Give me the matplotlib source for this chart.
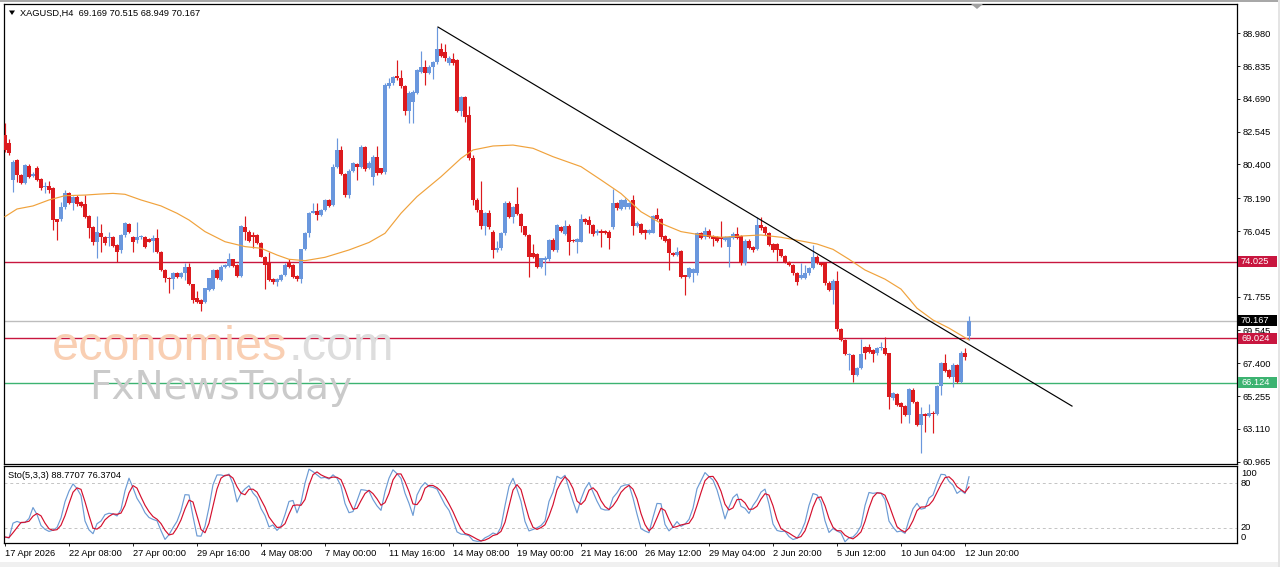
import numpy as np
import pandas as pd
import matplotlib
matplotlib.use('Agg')
import matplotlib.pyplot as plt
from matplotlib.patches import Rectangle, Polygon
import matplotlib.transforms as mtransforms

plt.rcParams['font.family'] = ['Liberation Sans', 'DejaVu Sans']

# ---------------- data ----------------
symbol_header = "XAGUSD,H4  69.169 70.515 68.949 70.167"
sto_header = "Sto(5,3,3) 88.7707 76.3704"

opens = [82.33, 81.78, 79.39, 80.69, 79.71, 79.21, 80.30, 79.65, 80.19, 79.45,
         78.91, 78.99, 78.84, 76.81, 76.81, 77.60, 78.51, 77.86, 78.30, 77.97,
         77.82, 77.03, 76.33, 75.35, 75.94, 75.68, 75.57, 75.68, 75.13, 74.81,
         75.79, 76.51, 75.68, 75.46, 75.64, 75.68, 75.50, 75.42, 75.57, 74.70,
         73.50, 73.00, 72.89, 73.33, 73.06, 73.28, 73.68, 72.58, 71.65, 71.54,
         71.43, 72.19, 72.24, 73.50, 72.85, 73.72, 73.76, 74.20, 73.83, 73.11,
         76.33, 76.01, 75.79, 75.79, 75.29, 74.37, 73.94, 72.89, 72.74, 72.85,
         73.17, 74.04, 73.83, 73.11, 72.89, 74.85, 75.90, 77.25, 77.36, 77.10,
         77.42, 78.08, 77.75, 80.26, 81.35, 79.78, 78.40, 80.00, 80.43, 80.26,
         81.57, 80.15, 79.60, 80.87, 80.15, 79.90, 85.56, 85.71, 86.19, 86.03,
         85.53, 83.92, 84.51, 85.10, 86.47, 86.80, 86.41, 86.80, 87.13, 87.93,
         87.78, 87.02, 87.28, 87.23, 83.92, 84.79, 83.64, 80.80, 78.08, 77.42,
         76.38, 77.21, 76.01, 74.81, 74.92, 75.90, 77.90, 76.99, 77.82, 77.16,
         76.38, 75.79, 74.59, 74.55, 73.67, 74.15, 74.20, 75.46, 74.81, 76.33,
         75.85, 76.38, 75.46, 75.35, 75.35, 76.81, 76.77, 76.44, 75.90, 76.07,
         76.07, 76.01, 76.30, 77.90, 77.47, 77.60, 77.60, 78.08, 76.38, 76.51,
         76.12, 75.94, 75.94, 77.10, 76.81, 75.72, 75.51, 74.59, 74.48, 74.74,
         73.17, 73.06, 73.33, 73.28, 75.90, 75.64, 76.07, 75.72, 75.64, 75.64,
         75.46, 75.03, 75.57, 75.85, 75.72, 73.94, 75.42, 75.03, 74.85, 76.44,
         76.29, 75.94, 75.18, 75.18, 74.85, 74.42, 74.05, 73.83, 73.33, 72.95,
         72.95, 73.28, 73.61, 74.37, 73.98, 73.94, 72.67, 72.19, 72.80, 69.62,
         68.92, 67.94, 67.94, 66.63, 67.07, 68.49, 68.49, 68.27, 68.05, 68.38,
         68.38, 68.05, 65.11, 65.39, 64.78, 64.61, 64.02, 65.65, 64.89, 63.36,
         64.08, 63.95, 64.17, 64.08, 65.91, 67.44, 66.96, 66.52, 67.29, 66.20,
         68.05, 69.169]
highs = [83.09, 82.05, 80.69, 80.75, 79.80, 80.45, 80.40, 79.90, 80.30, 79.50,
         79.28, 79.32, 78.90, 76.85, 77.97, 78.73, 78.60, 78.35, 78.40, 78.00,
         78.40, 77.10, 76.40, 77.03, 76.51, 75.70, 76.01, 75.75, 75.20, 75.85,
         76.66, 76.55, 75.75, 76.66, 75.80, 75.75, 75.60, 75.79, 76.16, 74.75,
         73.55, 73.05, 73.40, 73.40, 73.40, 73.98, 73.98, 72.60, 72.15, 71.60,
         72.35, 73.00, 73.55, 73.55, 73.80, 73.90, 74.59, 74.25, 73.90, 76.42,
         77.03, 76.10, 76.01, 75.85, 75.35, 74.40, 74.70, 72.95, 72.95, 73.25,
         73.98, 74.20, 73.90, 73.15, 74.90, 76.00, 77.30, 77.90, 77.86, 77.50,
         78.15, 78.15, 80.40, 82.11, 81.60, 79.85, 80.10, 80.55, 80.50, 81.65,
         81.60, 80.60, 81.00, 81.60, 80.20, 85.70, 86.03, 86.20, 87.23, 86.58,
         85.60, 85.20, 85.30, 86.65, 87.84, 87.23, 86.90, 87.20, 89.37, 88.32,
         88.30, 87.50, 87.67, 87.30, 84.90, 84.85, 84.20, 81.00, 78.20, 79.30,
         77.30, 77.40, 76.10, 75.40, 76.00, 78.00, 78.00, 77.70, 78.95, 77.20,
         76.40, 75.85, 75.20, 74.60, 74.30, 74.40, 75.50, 75.60, 76.50, 76.40,
         76.80, 76.50, 75.55, 75.60, 77.14, 76.90, 77.00, 76.50, 76.20, 76.20,
         76.10, 76.10, 78.78, 77.95, 78.15, 78.20, 77.95, 78.40, 76.73, 76.60,
         76.20, 76.20, 77.10, 77.53, 76.90, 75.80, 75.60, 74.65, 74.98, 74.80,
         73.20, 73.72, 73.60, 76.00, 76.00, 76.30, 76.15, 75.80, 75.70, 76.73,
         75.70, 75.70, 76.00, 76.29, 75.80, 75.50, 75.50, 75.10, 76.99, 76.99,
         76.35, 76.00, 75.25, 75.25, 74.90, 74.50, 74.10, 73.90, 73.40, 73.94,
         73.83, 73.70, 75.13, 74.45, 74.05, 74.00, 72.75, 72.90, 73.46, 69.70,
         69.00, 68.10, 68.00, 67.15, 68.97, 68.55, 68.66, 68.35, 68.45, 68.82,
         69.10, 68.10, 65.50, 65.45, 64.85, 64.70, 65.75, 65.75, 64.95, 64.56,
         64.15, 64.74, 64.25, 66.00, 67.50, 68.01, 67.05, 67.40, 67.35, 68.22,
         68.38, 70.515]
lows = [81.20, 81.02, 78.62, 79.28, 79.10, 79.10, 79.50, 79.55, 79.30, 78.70,
        78.51, 78.51, 76.12, 75.46, 76.70, 77.50, 77.80, 77.42, 77.70, 77.60,
        76.90, 75.57, 75.13, 74.26, 74.70, 75.13, 75.07, 75.00, 74.04, 74.63,
        75.68, 75.90, 74.70, 75.24, 75.55, 74.95, 75.30, 74.70, 74.59, 73.45,
        72.74, 72.02, 72.24, 72.95, 73.00, 72.85, 72.50, 71.32, 71.35, 70.84,
        71.32, 72.10, 72.20, 72.90, 72.80, 73.65, 73.70, 73.70, 73.05, 73.05,
        75.46, 75.35, 74.95, 75.20, 74.35, 72.24, 72.80, 72.60, 72.45, 72.80,
        73.10, 73.65, 73.00, 72.80, 72.63, 74.80, 75.68, 77.20, 76.77, 77.00,
        77.35, 77.60, 77.70, 80.20, 79.70, 78.30, 78.20, 79.90, 79.40, 80.20,
        80.00, 80.10, 79.06, 79.70, 79.75, 79.80, 85.40, 85.60, 85.90, 85.40,
        83.64, 83.09, 83.09, 85.00, 86.40, 85.60, 86.30, 86.00, 87.00, 87.40,
        87.20, 86.90, 86.90, 83.85, 83.60, 83.20, 80.70, 77.75, 77.30, 76.20,
        75.80, 76.20, 74.26, 74.70, 74.80, 75.80, 76.90, 76.60, 77.10, 76.00,
        75.70, 73.06, 74.30, 73.60, 73.60, 73.17, 74.10, 74.75, 74.70, 76.00,
        75.80, 74.50, 75.30, 74.60, 75.30, 76.50, 75.90, 75.75, 75.80, 75.00,
        75.85, 74.90, 76.20, 77.40, 77.40, 77.50, 77.50, 75.79, 76.30, 75.85,
        75.51, 75.85, 75.90, 76.75, 75.55, 75.30, 73.50, 74.40, 74.40, 72.95,
        71.86, 73.00, 72.74, 73.20, 75.50, 75.55, 75.60, 75.10, 75.30, 74.98,
        75.40, 73.72, 75.50, 75.50, 73.85, 73.85, 74.85, 74.70, 74.80, 76.10,
        75.80, 75.05, 74.70, 74.10, 74.35, 73.95, 73.75, 73.20, 72.52, 72.90,
        72.90, 73.20, 73.55, 73.90, 73.75, 72.55, 72.10, 71.28, 69.50, 68.85,
        67.95, 66.96, 66.20, 66.55, 67.00, 67.66, 68.10, 67.50, 67.95, 68.30,
        67.95, 64.39, 65.00, 64.60, 63.47, 63.95, 63.47, 64.80, 63.30, 61.51,
        62.93, 63.90, 62.82, 64.00, 65.33, 66.85, 66.45, 65.87, 66.10, 66.10,
        67.61, 68.949]
closes = [81.35, 81.13, 80.59, 79.71, 79.17, 80.37, 79.60, 79.78, 79.39, 78.84,
          78.99, 78.73, 76.77, 76.66, 77.64, 78.56, 77.90, 78.25, 77.82, 77.69,
          76.99, 76.23, 75.35, 76.01, 75.68, 75.29, 75.68, 75.07, 74.70, 75.79,
          76.55, 76.01, 75.35, 75.68, 75.72, 75.03, 75.35, 75.57, 74.70, 73.50,
          72.95, 72.89, 73.33, 73.02, 73.33, 73.72, 72.58, 71.54, 71.43, 71.28,
          72.30, 72.95, 73.50, 72.95, 73.72, 73.83, 74.20, 73.76, 73.11, 76.38,
          76.01, 75.42, 75.68, 75.29, 74.37, 73.83, 72.85, 72.74, 72.89, 73.17,
          73.83, 73.72, 73.06, 72.89, 74.85, 75.94, 77.25, 77.36, 77.10, 77.42,
          78.08, 77.68, 80.26, 81.35, 79.78, 78.40, 80.00, 80.48, 80.21, 81.57,
          80.08, 80.48, 80.90, 79.82, 79.82, 85.60, 85.71, 86.14, 86.03, 85.53,
          83.92, 85.10, 85.16, 86.58, 86.80, 86.41, 86.80, 87.13, 87.93, 87.50,
          87.34, 87.34, 87.02, 83.92, 84.79, 83.48, 80.80, 78.08, 77.42, 76.38,
          77.21, 76.33, 74.81, 74.92, 75.90, 77.90, 76.99, 77.64, 77.16, 76.38,
          75.79, 74.37, 74.37, 73.67, 74.26, 74.26, 75.46, 74.81, 76.44, 76.07,
          76.38, 75.35, 75.42, 75.50, 76.81, 76.66, 76.44, 75.85, 76.07, 75.90,
          75.90, 75.57, 77.86, 77.53, 78.08, 78.10, 77.86, 76.38, 76.55, 75.94,
          75.90, 76.12, 77.03, 76.81, 75.64, 75.42, 74.59, 74.48, 74.70, 73.06,
          73.06, 73.61, 73.54, 75.94, 75.57, 76.07, 75.68, 75.51, 75.42, 75.51,
          75.64, 75.64, 75.85, 75.57, 73.94, 75.42, 74.92, 74.81, 76.44, 76.22,
          75.90, 75.13, 74.81, 74.81, 74.42, 74.05, 73.83, 73.28, 72.74, 73.17,
          73.28, 73.61, 74.37, 73.98, 73.83, 72.63, 72.19, 72.80, 69.62, 68.92,
          68.01, 68.01, 66.63, 67.07, 68.01, 68.05, 68.16, 68.01, 68.38, 68.44,
          68.01, 65.17, 65.43, 64.67, 64.56, 64.02, 65.70, 64.89, 63.36, 64.08,
          63.95, 64.13, 64.08, 65.91, 67.40, 66.92, 66.52, 67.29, 66.20, 68.05,
          67.79, 70.167]

# moving average (bar index, value)
ma_idx = [0, 3, 7, 11, 15, 20, 24, 27, 30, 34, 39, 43, 46, 50, 55, 60, 64, 68,
          71, 75, 80, 86, 91, 95, 99, 103, 109, 114, 117, 122, 127, 132, 137,
          144, 149, 154, 159, 164, 169, 174, 179, 184, 189, 194, 199, 203, 207,
          211, 215, 220, 224, 228, 232, 236, 241]
ma_val = [76.99, 77.49, 77.69, 78.08, 78.36, 78.40, 78.47, 78.51, 78.45, 78.08,
          77.69, 77.21, 76.77, 76.01, 75.35, 75.03, 74.92, 74.48, 74.20, 74.11,
          74.33, 74.81, 75.30, 75.90, 77.21, 78.30, 79.60, 80.80, 81.35, 81.61,
          81.67, 81.46, 80.91, 80.26, 79.39, 78.50, 77.31, 76.55, 76.01, 75.79,
          75.64, 75.72, 75.79, 75.64, 75.40, 75.20, 74.85, 74.20, 73.50, 72.90,
          72.25, 71.00, 70.23, 69.70, 68.92]

trend_idx = [108.25, 266.75]
trend_val = [89.39, 64.60]

red_levels = [74.025, 69.024]
green_levels = [66.124]
bid_level = 70.167

# tick labels visible on the price scale (73.900 is hidden under the 74.025 tag)
price_ticks = [88.980, 86.835, 84.690, 82.545, 80.400, 78.190, 76.045,
               71.755, 69.545, 67.400, 65.255, 63.110, 60.965]
date_pos = [0, 16, 32, 48, 64, 80, 96, 112, 128, 144, 160, 176, 192, 208, 224, 240]
date_labels = ["17 Apr 2026", "22 Apr 08:00", "27 Apr 00:00", "29 Apr 16:00",
               "4 May 08:00", "7 May 00:00", "11 May 16:00", "14 May 08:00",
               "19 May 00:00", "21 May 16:00", "26 May 12:00", "29 May 04:00",
               "2 Jun 20:00", "5 Jun 12:00", "10 Jun 04:00", "12 Jun 20:00"]

# ---------------- colours ----------------
BULL = '#6A97DD'
BEAR = '#DC1A1E'
MA_C = '#F0A23C'
CRIMSON = '#C8163F'
GREEN = '#3CB371'
STO_MAIN = '#6C9BD4'
STO_SIG = '#D4102E'

# ---------------- figure ----------------
W, H = 1280, 567
fig = plt.figure(figsize=(W / 100, H / 100), dpi=100, facecolor='white')


def fx(x):
    return x / W


def fy(y):
    return 1 - y / H


ax = fig.add_axes([fx(4), fy(464), fx(1237) - fx(4), fy(4) - fy(464)])
ax2 = fig.add_axes([fx(4), fy(543), fx(1237) - fx(4), fy(466) - fy(543)])

o = np.array(opens); h = np.array(highs); l = np.array(lows); c = np.array(closes)
x = np.arange(len(c))
up = c >= o
cols = np.where(up, BULL, BEAR)

ax.set_xlim(-0.25, 308)
ax.set_ylim(60.812, 90.896)

# levels
for lv in red_levels:
    ax.axhline(lv, color=CRIMSON, lw=1.0, zorder=1)
for lv in green_levels:
    ax.axhline(lv, color=GREEN, lw=1.0, zorder=1)
ax.axhline(bid_level, color='#BDBDBD', lw=1.0, zorder=1)

# candles
ax.vlines(x, l, h, colors=cols, lw=0.85, zorder=3)
body_lo = np.minimum(o, c)
body_h = np.maximum(np.abs(c - o), 0.07)
ax.bar(x, body_h, bottom=body_lo, width=0.8, color=cols, linewidth=0, zorder=4)

# moving average
ax.plot(ma_idx, ma_val, color=MA_C, lw=0.85, zorder=5)
# trend line
ax.plot(trend_idx, trend_val, color='black', lw=0.85, zorder=6)

# axes styling
for a in (ax, ax2):
    for s in a.spines.values():
        s.set_color('black')
        s.set_linewidth(0.9)
ax.set_xticks([])
ax.yaxis.tick_right()
ax.set_yticks(price_ticks)
ax.set_yticklabels([f"{t:.3f}" for t in price_ticks])
ax.tick_params(axis='y', direction='out', length=2.5, width=0.6, pad=1.5,
               labelsize=6.7, colors='black')

# price label tags
btr = mtransforms.blended_transform_factory(fig.transFigure, ax.transData)
box_h = 11 / 15.29
for lv, bg in [(red_levels[0], CRIMSON), (bid_level, 'black'),
               (red_levels[1], CRIMSON), (green_levels[0], GREEN)]:
    r = Rectangle((fx(1238), lv - box_h / 2), fx(1277) - fx(1238), box_h,
                  transform=btr, facecolor=bg, edgecolor='none', clip_on=False,
                  zorder=10)
    fig.add_artist(r)
    fig.text(fx(1241), lv, f"{lv:.3f}", transform=btr, fontsize=6.7, color='white',
             ha='left', va='center', zorder=11)

# header
fig.text(fx(20), fy(13), symbol_header, fontsize=6.7, ha='left', va='center')
fig.add_artist(Polygon([[fx(9), fy(10.5)], [fx(15), fy(10.5)], [fx(12), fy(15)]],
                       closed=True, transform=fig.transFigure, facecolor='black',
                       edgecolor='none'))

# watermark
t1 = fig.text(fx(52), fy(360), "economies", fontsize=35, color='#F9CFB3',
              ha='left', va='baseline', zorder=8)
fig.canvas.draw()
bb = t1.get_window_extent()
fig.text(bb.x1 / W + 0.001, fy(360), ".com", fontsize=35, color='#DDDDDD',
         ha='left', va='baseline', zorder=8)
fig.text(fx(89), fy(399), "FxNewsToday", fontsize=28, color='#CACACA',
         family='DejaVu Sans', ha='left', va='baseline', zorder=8)

# ---------------- stochastic ----------------
hs = pd.Series(h); ls = pd.Series(l); cs = pd.Series(c)
hh = hs.rolling(5, min_periods=1).max()
ll = ls.rolling(5, min_periods=1).min()
num = (cs - ll).rolling(3, min_periods=1).sum()
den = (hh - ll).rolling(3, min_periods=1).sum()
k = 100 * num / den
d = k.rolling(3, min_periods=1).mean()

ax2.set_xlim(-0.25, 308)
ax2.set_ylim(0, 102.7)
for lv in (20, 80):
    ax2.axhline(lv, color='#C4C4C4', lw=0.7, ls=(0, (3, 3)))
ax2.plot(x, k, color=STO_MAIN, lw=0.85)
ax2.plot(x, d, color=STO_SIG, lw=0.85)
ax2.set_yticks([])
ax2.set_xticks(date_pos)
ax2.set_xticklabels(date_labels, ha='left')
ax2.tick_params(axis='x', direction='out', length=2.5, width=0.6, pad=1.5,
                labelsize=6.7, colors='black')
fig.text(fx(8), fy(476), sto_header, fontsize=6.7, ha='left', va='center')
for txt, yy in [("100", 473), ("80", 483), ("20", 528), ("0", 537)]:
    fig.text(fx(1241), fy(yy), txt, fontsize=6.7, ha='left', va='center')

# window frame details
fig.add_artist(Rectangle((0, fy(2)), 1, 2 / H, transform=fig.transFigure,
                         facecolor='#A8A8A8', edgecolor='none'))
fig.add_artist(Rectangle((0, 0), 1, 5 / H, transform=fig.transFigure,
                         facecolor='#F0F0F0', edgecolor='none'))
fig.add_artist(Rectangle((fx(1278), 0), 2 / W, 1, transform=fig.transFigure,
                         facecolor='#E4E4E4', edgecolor='none'))
fig.add_artist(Polygon([[fx(971), fy(4)], [fx(983), fy(4)], [fx(977), fy(9)]],
                       closed=True, transform=fig.transFigure, facecolor='#A0A0A0',
                       edgecolor='none'))

fig.savefig('out.png', dpi=100, facecolor='white')
